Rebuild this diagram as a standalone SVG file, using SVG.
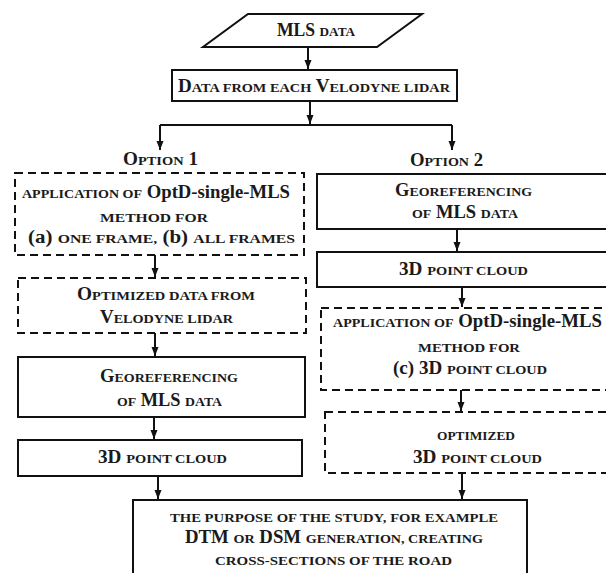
<svg xmlns="http://www.w3.org/2000/svg" width="606" height="573" viewBox="0 0 606 573">
<style>
text{font-family:"Liberation Serif","Times New Roman",serif;font-weight:bold;font-size:18px;fill:#1a1a1a;text-anchor:middle}
.s{font-size:13.5px}
.box{fill:#fff;stroke:#111;stroke-width:2}
.dash{fill:#fff;stroke:#111;stroke-width:2;stroke-dasharray:8 5}
.c{fill:none;stroke:#111;stroke-width:2}
</style>
<defs>
<marker id="ah" markerUnits="userSpaceOnUse" markerWidth="10" markerHeight="8" refX="9" refY="3.5" orient="auto">
<path d="M0,0 L9,3.5 L0,7 z" fill="#111"/>
</marker>
</defs>
<rect width="606" height="573" fill="#fff"/>
<g id="connectors">
<path class="c" d="M308,47 V69" marker-end="url(#ah)"/>
<path class="c" d="M310,101 V124" marker-end="url(#ah)"/>
<path class="c" d="M160,125 H452"/>
<path class="c" d="M160,125 V150" marker-end="url(#ah)"/>
<path class="c" d="M452,125 V150" marker-end="url(#ah)"/>
<path class="c" d="M155,255 V277" marker-end="url(#ah)"/>
<path class="c" d="M155,333 V356" marker-end="url(#ah)"/>
<path class="c" d="M154,417 V439" marker-end="url(#ah)"/>
<path class="c" d="M158,476 V499" marker-end="url(#ah)"/>
<path class="c" d="M457,229 V251" marker-end="url(#ah)"/>
<path class="c" d="M462,287 V307" marker-end="url(#ah)"/>
<path class="c" d="M461,390 V411" marker-end="url(#ah)"/>
<path class="c" d="M462,473 V499" marker-end="url(#ah)"/>
</g>
<g id="mls-data">
<path class="box" d="M248,14 H422 L377,47 H203 Z"/>
<text x="316" y="36" textLength="78" lengthAdjust="spacingAndGlyphs">MLS <tspan class="s">DATA</tspan></text>
</g>
<g id="velodyne-data">
<rect class="box" x="172" y="70" width="285" height="31"/>
<text x="314" y="92" textLength="272" lengthAdjust="spacingAndGlyphs">D<tspan class="s">ATA FROM EACH</tspan> V<tspan class="s">ELODYNE LIDAR</tspan></text>
</g>
<g id="option1-label">
<text x="160.5" y="165" textLength="75" lengthAdjust="spacingAndGlyphs">O<tspan class="s">PTION</tspan> 1</text>
</g>
<g id="option2-label">
<text x="446.5" y="166" textLength="73" lengthAdjust="spacingAndGlyphs">O<tspan class="s">PTION</tspan> 2</text>
</g>
<g id="opt1-application">
<rect class="dash" x="15" y="173" width="289" height="82"/>
<text x="156" y="198" textLength="268" lengthAdjust="spacingAndGlyphs"><tspan class="s">APPLICATION OF</tspan> OptD-single-MLS</text>
<text x="154" y="222" textLength="108" lengthAdjust="spacingAndGlyphs" class="s">METHOD FOR</text>
<text x="161.5" y="243" textLength="267" lengthAdjust="spacingAndGlyphs">(a) <tspan class="s">ONE FRAME,</tspan> (b) <tspan class="s">ALL FRAMES</tspan></text>
</g>
<g id="opt1-optimized">
<rect class="dash" x="18" y="278" width="288" height="55"/>
<text x="166" y="300" textLength="178" lengthAdjust="spacingAndGlyphs">O<tspan class="s">PTIMIZED DATA FROM</tspan></text>
<text x="166.5" y="323" textLength="133" lengthAdjust="spacingAndGlyphs">V<tspan class="s">ELODYNE LIDAR</tspan></text>
</g>
<g id="opt1-georef">
<rect class="box" x="18" y="357" width="287" height="60"/>
<text x="169" y="382" textLength="138" lengthAdjust="spacingAndGlyphs">G<tspan class="s">EOREFERENCING</tspan></text>
<text x="169.5" y="406" textLength="105" lengthAdjust="spacingAndGlyphs"><tspan class="s">OF</tspan> MLS <tspan class="s">DATA</tspan></text>
</g>
<g id="opt1-cloud">
<rect class="box" x="18" y="440" width="284" height="36"/>
<text x="162.5" y="463" textLength="129" lengthAdjust="spacingAndGlyphs">3D <tspan class="s">POINT CLOUD</tspan></text>
</g>
<g id="opt2-georef">
<rect class="box" x="317" y="174" width="300" height="55"/>
<text x="463.5" y="196" textLength="137" lengthAdjust="spacingAndGlyphs">G<tspan class="s">EOREFERENCING</tspan></text>
<text x="465" y="218" textLength="106" lengthAdjust="spacingAndGlyphs"><tspan class="s">OF</tspan> MLS <tspan class="s">DATA</tspan></text>
</g>
<g id="opt2-cloud">
<rect class="box" x="317" y="252" width="300" height="35"/>
<text x="463.5" y="275" textLength="129" lengthAdjust="spacingAndGlyphs">3D <tspan class="s">POINT CLOUD</tspan></text>
</g>
<g id="opt2-application">
<rect class="dash" x="321" y="308" width="300" height="82"/>
<text x="467.5" y="327" textLength="269" lengthAdjust="spacingAndGlyphs"><tspan class="s">APPLICATION OF</tspan> OptD-single-MLS</text>
<text x="469" y="352" textLength="102" lengthAdjust="spacingAndGlyphs" class="s">METHOD FOR</text>
<text x="470" y="374" textLength="154" lengthAdjust="spacingAndGlyphs">(c) 3D <tspan class="s">POINT CLOUD</tspan></text>
</g>
<g id="opt2-optimized">
<rect class="dash" x="325" y="412" width="300" height="61"/>
<text x="476" y="440" textLength="78" lengthAdjust="spacingAndGlyphs" class="s">OPTIMIZED</text>
<text x="477.5" y="463" textLength="129" lengthAdjust="spacingAndGlyphs">3D <tspan class="s">POINT CLOUD</tspan></text>
</g>
<g id="purpose">
<rect class="box" x="133" y="500" width="394" height="85"/>
<text x="334" y="522" textLength="328" lengthAdjust="spacingAndGlyphs" class="s">THE PURPOSE OF THE STUDY, FOR EXAMPLE</text>
<text x="334" y="543" textLength="298" lengthAdjust="spacingAndGlyphs">DTM <tspan class="s">OR</tspan> DSM <tspan class="s">GENERATION, CREATING</tspan></text>
<text x="333.5" y="565" textLength="237" lengthAdjust="spacingAndGlyphs" class="s">CROSS-SECTIONS OF THE ROAD</text>
</g>
</svg>
